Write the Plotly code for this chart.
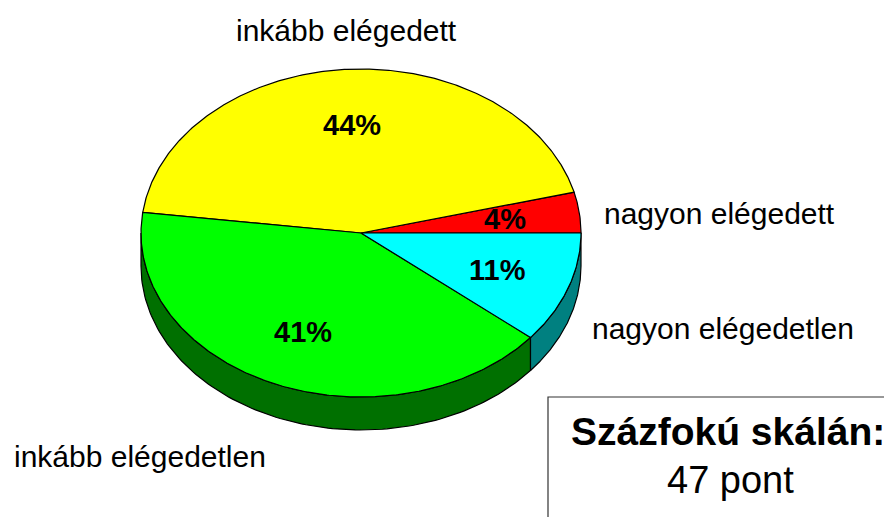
import numpy as np
import plotly.graph_objects as go

# ---- data ----
categories = ["nagyon elégedett", "inkább elégedett", "inkább elégedetlen", "nagyon elégedetlen"]
values = [4, 44, 41, 11]
top_colors = ["#FF0000", "#FFFF00", "#00FF00", "#00FFFF"]
side_colors = ["#990000", "#999900", "#007000", "#008080"]
# outside label positions (pixel layout) and anchors
label_x = [602, 346, 12, 590]
label_base = [222, 39, 465, 337]
label_anchor = ["left", "center", "left", "left"]
box_title = "Százfokú skálán:"
box_value = "47 pont"

# ---- geometry (layout) ----
W, H = 892, 517
OFF = 8  # page body margin
CX, CY, RX, RY, DEPTH = 361, 233, 220, 164, 33
LABEL_R = 0.66
FONT = "Liberation Sans, Arial, sans-serif"

total = float(sum(values))
ends = np.cumsum(values) / total * 360.0
starts = np.concatenate([[0.0], ends[:-1]])


def ell(theta_deg, dy=0.0):
    t = np.radians(theta_deg)
    return CX + RX * np.cos(t), CY - RY * np.sin(t) + dy


fig = go.Figure()

# side walls (visible front half: 180..360 deg)
for a0, a1, col in zip(starts, ends, side_colors):
    lo, hi = max(a0, 180.0), min(a1, 360.0)
    if hi <= lo:
        continue
    th = np.linspace(lo, hi, 120)
    xt, yt = ell(th)
    xb, yb = ell(th[::-1], DEPTH)
    xs = np.concatenate([xt, xb, xt[:1]])
    ys = np.concatenate([yt, yb, yt[:1]])
    fig.add_trace(go.Scatter(x=xs, y=ys, mode="lines", fill="toself", fillcolor=col,
                             line=dict(color="black", width=1.2), hoverinfo="skip",
                             showlegend=False))

# top faces
for a0, a1, col in zip(starts, ends, top_colors):
    th = np.linspace(a0, a1, max(int((a1 - a0) * 2), 8))
    xa, ya = ell(th)
    xs = np.concatenate([[CX], xa, [CX]])
    ys = np.concatenate([[CY], ya, [CY]])
    fig.add_trace(go.Scatter(x=xs, y=ys, mode="lines", fill="toself", fillcolor=col,
                             line=dict(color="black", width=1.2), hoverinfo="skip",
                             showlegend=False))

annotations = []
# percentage labels
for a0, a1, v in zip(starts, ends, values):
    mid = np.radians((a0 + a1) / 2)
    x = CX + LABEL_R * RX * np.cos(mid)
    y = CY - LABEL_R * RY * np.sin(mid)
    annotations.append(dict(x=x, y=y, xref="x", yref="y", text=f"<b>{v}%</b>",
                            showarrow=False, xanchor="center", yanchor="middle",
                            font=dict(family=FONT, size=29, color="black")))

# category labels
for name, x, yb, anc in zip(categories, label_x, label_base, label_anchor):
    annotations.append(dict(x=x, y=yb - 9, xref="x", yref="y", text=name,
                            showarrow=False, xanchor=anc, yanchor="middle",
                            font=dict(family=FONT, size=30, color="black")))

# box text
annotations.append(dict(x=728, y=444 - 13, xref="x", yref="y", text=f"<b>{box_title}</b>",
                        showarrow=False, xanchor="center", yanchor="middle",
                        font=dict(family=FONT, size=39, color="black")))
annotations.append(dict(x=730, y=492 - 12, xref="x", yref="y", text=box_value,
                        showarrow=False, xanchor="center", yanchor="middle",
                        font=dict(family=FONT, size=38, color="black")))

fig.update_layout(
    width=W, height=H,
    margin=dict(l=0, r=0, t=0, b=0),
    paper_bgcolor="white", plot_bgcolor="white",
    xaxis=dict(range=[OFF, W + OFF], visible=False, fixedrange=True),
    yaxis=dict(range=[H + OFF, OFF], visible=False, fixedrange=True),
    annotations=annotations,
    shapes=[dict(type="rect", xref="x", yref="y", x0=548, x1=W + 20, y0=397, y1=H + 20,
                 line=dict(color="#333333", width=1.2), fillcolor="rgba(0,0,0,0)")],
    showlegend=False,
)

fig.write_html("out.html")
